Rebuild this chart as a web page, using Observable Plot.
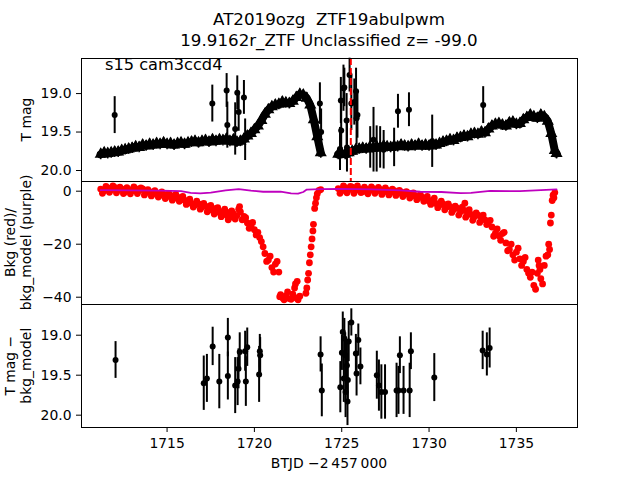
<!DOCTYPE html>
<html><head><meta charset="utf-8">
<script src="https://cdn.jsdelivr.net/npm/d3@7"></script>
<script src="https://cdn.jsdelivr.net/npm/@observablehq/plot@0.6"></script>
<style>
body{margin:0;background:#fff}
#wrap{position:relative;width:640px;height:480px;overflow:hidden;background:#fff;font-family:"DejaVu Sans",sans-serif}
#wrap svg.p{position:absolute;left:0}
#overlay{position:absolute;left:0;top:0;pointer-events:none}
#overlay text{white-space:pre}
</style></head><body>
<div id="wrap"></div>
<script>
// ---------- data ----------
const xTicks = [1715, 1720, 1725, 1730, 1735];
const magTicks = [19.0, 19.5, 20.0];
const bkgTicks = [-40, -20, 0];
const flagDay = [1725.52];
const gapDay = 1724.3; // orbit gap between the two segments

// light curve (top panel dense band)
const lcDays = [1711.2,1711.4,1711.6,1711.8,1712.0,1712.2,1712.4,1712.6,1712.8,1713.0,
1713.2,1713.4,1713.6,1713.8,1714.0,1714.2,1714.4,1714.6,1714.8,1715.0,
1715.2,1715.4,1715.6,1715.8,1716.0,1716.2,1716.4,1716.6,1716.8,1717.0,
1717.2,1717.4,1717.6,1717.8,1718.0,1718.2,1718.4,1718.6,1718.8,1719.0,
1719.2,1719.4,1719.6,1719.8,1720.0,1720.2,1720.4,1720.6,1720.8,1721.0,
1721.2,1721.4,1721.6,1721.8,1722.0,1722.2,1722.4,1722.6,1722.8,1723.0,
1723.2,1723.4,1723.6,1723.8,
1724.8,1725.0,1725.2,1725.4,1725.6,1725.8,1726.0,1726.2,1726.4,1726.6,
1726.8,1727.0,1727.2,1727.4,1727.6,1727.8,1728.0,1728.2,1728.4,1728.6,
1728.8,1729.0,1729.2,1729.4,1729.6,1729.8,1730.0,1730.2,1730.4,1730.6,
1730.8,1731.0,1731.2,1731.4,1731.6,1731.8,1732.0,1732.2,1732.4,1732.6,
1732.8,1733.0,1733.2,1733.4,1733.6,1733.8,1734.0,1734.2,1734.4,1734.6,
1734.8,1735.0,1735.2,1735.4,1735.6,1735.8,1736.0,1736.2,1736.4,1736.6,
1736.8,1737.0,1737.2,1737.3];
const lcMag = [19.79,19.77,19.78,19.77,19.76,19.76,19.74,19.73,19.72,19.71,
19.69,19.70,19.67,19.68,19.66,19.67,19.65,19.66,19.64,19.66,
19.65,19.67,19.65,19.64,19.66,19.64,19.63,19.62,19.64,19.62,
19.61,19.63,19.60,19.62,19.60,19.61,19.59,19.62,19.60,19.63,
19.62,19.59,19.55,19.52,19.47,19.42,19.35,19.27,19.21,19.17,
19.15,19.14,19.11,19.12,19.13,19.10,19.05,19.01,19.02,19.06,
19.15,19.34,19.56,19.77,
19.79,19.78,19.79,19.77,19.75,19.73,19.72,19.71,19.72,19.70,
19.71,19.69,19.70,19.68,19.69,19.70,19.68,19.69,19.67,19.68,
19.69,19.67,19.68,19.66,19.68,19.67,19.68,19.66,19.67,19.65,
19.63,19.62,19.60,19.61,19.58,19.57,19.55,19.56,19.53,19.52,
19.53,19.50,19.51,19.46,19.42,19.40,19.39,19.41,19.42,19.38,
19.37,19.40,19.39,19.34,19.31,19.28,19.30,19.32,19.28,19.30,
19.36,19.52,19.74,19.78];
const lcErr = 0.07;

// top panel points with large error bars
const topOutDays = [1712.0,1717.59,1718.41,1718.45,1718.9,1719.02,1719.1,1719.4,1719.47,1723.75,1723.82,
1724.9,1724.95,1724.97,1725.1,1725.15,1725.28,1725.3,1725.45,1725.55,1725.72,1725.82,1725.85,1725.9,
1726.63,1726.82,1727.0,1727.2,1727.4,1728.0,1728.22,1728.85,1730.18,1733.1];
const topOutMag = [19.28,19.13,18.96,19.41,19.46,18.99,19.24,19.05,19.60,19.13,19.50,
19.72,19.09,19.48,18.93,18.92,19.35,19.70,18.76,19.13,19.11,18.97,19.32,19.28,
19.70,19.60,19.72,19.70,19.73,19.70,19.23,19.21,19.62,19.15];
const topOutErr = [0.24,0.24,0.22,0.30,0.34,0.22,0.25,0.22,0.27,0.27,0.30,
0.28,0.30,0.35,0.30,0.25,0.35,0.32,0.22,0.35,0.30,0.30,0.35,0.30,
0.27,0.42,0.30,0.27,0.25,0.25,0.22,0.22,0.34,0.24];

// background (red)
const bkgDays = [1711.2,1711.4,1711.6,1711.8,1712.0,1712.2,1712.4,1712.6,1712.8,1713.0,
1713.2,1713.4,1713.6,1713.8,1714.0,1714.2,1714.4,1714.6,1714.8,1715.0,
1715.2,1715.4,1715.6,1715.8,1716.0,1716.2,1716.4,1716.6,1716.8,1717.0,
1717.2,1717.4,1717.6,1717.8,1718.0,1718.2,1718.4,1718.6,1718.8,1719.0,
1719.2,1719.4,1719.6,1719.8,1720.0,1720.2,1720.4,1720.6,1720.8,1721.0,
1721.2,1721.4,1721.6,1721.8,1722.0,1722.2,1722.4,1722.6,
1711.3,1711.5,1711.7,1711.9,1712.1,1712.3,1712.5,1712.7,1712.9,1713.1,
1713.3,1713.5,1713.7,1713.9,1714.1,1714.3,1714.5,1714.7,1714.9,1715.1,
1715.3,1715.5,1715.7,1715.9,1716.1,1716.3,1716.5,1716.7,1716.9,1717.1,
1717.3,1717.5,1717.7,1717.9,1718.1,1718.3,1718.5,1718.7,1718.9,1719.1,
1719.3,1719.5,1719.7,1719.9,1720.1,1720.3,1720.5,1720.7,1720.9,1721.1,
1721.3,1721.5,1721.7,1721.9,1722.1,1722.3,1722.5,
1721.45,1722.35,1722.45,1719.15,1718.45,
1722.95,1723.0,1723.05,1723.1,1723.15,1723.2,1723.25,1723.3,1723.35,1723.38,1723.45,1723.5,1723.55,1723.6,1723.7,1723.8,
1724.8,1725.0,1725.2,1725.4,1725.6,1725.8,1726.0,1726.2,1726.4,1726.6,
1726.8,1727.0,1727.2,1727.4,1727.6,1727.8,1728.0,1728.2,1728.4,1728.6,
1728.8,1729.0,1729.2,1729.4,1729.6,1729.8,1730.0,1730.2,1730.4,1730.6,
1730.8,1731.0,1731.2,1731.4,1731.6,1731.8,1732.0,1732.2,1732.4,1732.6,
1732.8,1733.0,1733.2,1733.4,1733.6,1733.8,1734.0,1734.2,1734.4,1734.6,
1734.8,1735.0,1735.2,1735.4,1735.6,1735.8,1736.0,1736.2,1736.4,1736.6,
1736.8,1737.0,
1724.9,1725.1,1725.3,1725.5,1725.7,1725.9,1726.1,1726.3,1726.5,1726.7,
1726.9,1727.1,1727.3,1727.5,1727.7,1727.9,1728.1,1728.3,1728.5,1728.7,
1728.9,1729.1,1729.3,1729.5,1729.7,1729.9,1730.1,1730.3,1730.5,1730.7,
1730.9,1731.1,1731.3,1731.5,1731.7,1731.9,1732.1,1732.3,1732.5,1732.7,
1732.9,1733.1,1733.3,1733.5,1733.7,1733.9,1734.1,1734.3,1734.5,1734.7,
1734.9,1735.1,1735.3,1735.5,1735.7,1735.9,1736.1,1736.3,1736.5,1736.7,
1736.9,
1732.05,1736.25,1736.35,1736.85,1736.95,1737.05,1737.1,1737.15,1737.2];
const bkgVals = [0.8,0.2,1.2,0.6,1.4,0.4,0.9,-0.3,0.7,0.2,
1.0,0.3,0.9,-0.5,-0.2,-1.0,-0.6,-1.5,-1.1,-2.0,
-1.6,-2.6,-2.2,-3.0,-3.4,-4.2,-4.6,-5.2,-4.8,-6.0,
-5.6,-6.8,-7.2,-6.5,-8.0,-7.6,-9.0,-9.8,-8.6,-9.2,
-7.8,-9.5,-12.0,-13.2,-14.5,-15.5,-19.0,-23.5,-26.0,-28.8,
-27.5,-30.5,-40.2,-39.5,-40.5,-38.8,-40.3,-39.6,
-0.8,1.8,-0.4,2.0,-0.6,1.5,-0.9,1.3,-1.0,1.6,
-0.9,1.2,-1.4,0.6,-1.8,0.2,-2.2,-0.3,-2.8,-0.9,
-3.4,-1.2,-3.8,-2.0,-5.0,-3.0,-6.0,-3.8,-6.8,-4.6,
-7.8,-5.4,-8.6,-6.2,-9.6,-6.8,-10.8,-7.4,-10.5,-6.8,
-10.8,-10.0,-14.0,-11.8,-16.5,-17.5,-21.0,-26.5,-24.5,-30.5,
-26.5,-39.0,-41.0,-38.0,-40.8,-36.5,-41.0,
-39.8,-35.0,-34.0,-5.8,-8.0,
-38.5,-36.5,-33.5,-31.0,-27.0,-24.0,-21.0,-18.0,-15.0,-12.5,-6.5,-4.5,-2.5,-1.0,0.3,0.6,
1.0,0.2,1.3,0.5,1.5,0.4,0.9,-0.2,0.8,0.3,
1.0,0.1,0.7,-0.3,0.4,-0.5,0.2,-0.9,-0.3,-1.2,
-0.6,-1.5,-1.8,-2.5,-2.2,-3.2,-3.8,-3.4,-4.6,-5.2,
-4.8,-6.0,-5.8,-7.0,-6.4,-7.8,-7.2,-8.2,-8.8,-9.6,
-9.0,-10.2,-10.8,-11.5,-13.5,-15.8,-16.8,-16.0,-19.5,-22.0,
-24.0,-23.0,-25.5,-26.5,-29.5,-32.5,-35.5,-31.0,-33.0,-28.0,
-24.0,-9.0,
-0.8,2.0,-0.6,1.8,-0.8,2.0,-0.5,1.5,-1.0,1.6,
-0.8,1.4,-1.2,1.2,-1.4,0.8,-1.6,0.3,-2.0,-0.2,
-2.6,-0.6,-3.2,-1.2,-3.8,-2.0,-5.0,-2.6,-6.2,-3.8,
-7.0,-4.8,-8.0,-5.6,-9.0,-6.0,-9.8,-7.0,-11.0,-8.2,
-11.8,-9.0,-12.6,-11.0,-17.0,-14.2,-18.5,-15.5,-22.5,-20.0,
-26.0,-21.5,-28.0,-25.0,-31.0,-30.5,-37.0,-28.0,-35.0,-24.5,
-22.0,
-4.5,-26.0,-29.5,-20.0,-12.0,-3.5,-1.5,-2.5,-0.5];

// background model (purple)
const modelDays = [1711.2,1712.9,1714.6,1715.8,1716.35,1716.9,1717.5,1718.35,1719.1,1719.8,1720.5,1721.5,1722.1,1722.5,1722.8,1723.0,1723.8,1724.9,1726.7,1728.4,1729.5,1730.7,1731.8,1732.4,1733.5,1735.2,1736.4,1737.3];
const modelVals = [0.4,0.3,0.2,0.0,-0.6,-0.8,-0.5,0.3,0.8,0.2,-0.2,-0.2,-0.8,-0.9,-0.3,0.6,0.8,0.9,0.7,0.3,-0.2,-0.3,-0.7,-0.6,0.1,0.0,0.4,0.7];

// bottom panel: T mag - bkg_model
const difDays = [1712.05,1717.10,1717.28,1717.61,1717.99,1718.48,1718.48,1718.90,1719.04,1719.09,
1719.16,1719.47,1719.51,1719.59,1720.27,1720.31,1720.33,1723.79,1723.86,1724.92,
1725.01,1725.06,1725.12,1725.15,1725.20,1725.22,1725.30,1725.33,1725.55,1725.35,
1725.40,1725.81,1725.85,1725.95,1726.07,1727.01,1727.13,1727.27,1727.48,1728.14,
1728.25,1728.33,1728.54,1728.89,1728.96,1730.30,1733.07,1733.31,1733.47];
const difMag = [19.31,19.60,19.54,19.14,19.58,19.03,19.51,19.63,19.58,19.42,
19.21,19.20,19.58,19.15,19.49,19.20,19.25,19.24,19.69,19.65,
19.22,18.96,19.54,19.04,19.25,19.71,19.38,19.83,18.84,19.56,
19.08,19.23,19.48,19.06,19.39,19.50,19.63,19.71,19.71,19.69,
19.69,19.25,19.69,19.69,19.20,19.53,19.19,19.24,19.16];
const difErr = [0.23,0.34,0.30,0.24,0.34,0.24,0.30,0.35,0.30,0.25,
0.24,0.25,0.31,0.24,0.35,0.21,0.22,0.22,0.33,0.32,
0.22,0.25,0.30,0.25,0.28,0.32,0.30,0.30,0.17,0.30,
0.25,0.24,0.28,0.20,0.23,0.30,0.32,0.34,0.34,0.34,
0.30,0.23,0.30,0.34,0.23,0.30,0.24,0.27,0.25];

// ---------- build tables ----------
const lc = lcDays.map((d, i) => ({d, m: lcMag[i], e: lcErr, seg: d < gapDay ? 1 : 2}));
const topOut = topOutDays.map((d, i) => ({d, m: topOutMag[i], e: topOutErr[i]}));
const bkg = bkgDays.map((d, i) => ({d, v: bkgVals[i]}));
const model = modelDays.map((d, i) => ({d, v: modelVals[i]}));
const dif = difDays.map((d, i) => ({d, m: difMag[i], e: difErr[i]}));

const X_DOMAIN = [1710.1, 1738.5];
const FONT = "DejaVu Sans";
const baseStyle = {fontFamily: FONT, fontSize: "13.9px", color: "black", background: "transparent", overflow: "visible"};
const common = {width: 640, marginLeft: 81, marginRight: 63, style: baseStyle};

const wrap = document.getElementById("wrap");

// panel 1
const p1 = Plot.plot({
  ...common, height: 181, marginTop: 58, marginBottom: 0,
  x: {domain: X_DOMAIN, axis: null},
  y: {domain: [20.143, 18.544], ticks: magTicks, tickFormat: ".1f", tickSize: 5, tickPadding: 5, label: null},
  marks: [
    Plot.line(lc, {x: "d", y: "m", z: "seg", stroke: "black", strokeWidth: 8, strokeLinejoin: "round", strokeLinecap: "round"}),
    Plot.ruleX(lc, {x: "d", y1: d => d.m - d.e, y2: d => d.m + d.e, stroke: "black", strokeWidth: 1.5}),
    Plot.dot(lc, {x: "d", y: "m", r: 4.5, symbol: "triangle", fill: "black", stroke: "none"}),
    Plot.ruleX(topOut, {x: "d", y1: d => d.m - d.e, y2: d => d.m + d.e, stroke: "black", strokeWidth: 2}),
    Plot.dot(topOut, {x: "d", y: "m", r: 3, fill: "black", stroke: "none"}),
    Plot.ruleX(flagDay, {stroke: "#ff0000", strokeWidth: 2, strokeDasharray: "7,3"}),
    Plot.frame({stroke: "black", strokeWidth: 1})
  ]
});
p1.classList.add("p"); p1.style.top = "0px";
wrap.appendChild(p1);

// panel 2
const p2 = Plot.plot({
  ...common, height: 123, marginTop: 0, marginBottom: 0,
  x: {domain: X_DOMAIN, axis: null},
  y: {domain: [-42.75, 3.66], ticks: bkgTicks, tickSize: 5, tickPadding: 5, label: null},
  marks: [
    Plot.dot(bkg, {x: "d", y: "v", r: 3.4, fill: "#ff0000", stroke: "none"}),
    Plot.line(model, {x: "d", y: "v", stroke: "#bf00bf", strokeWidth: 1.8}),
    Plot.frame({stroke: "black", strokeWidth: 1})
  ]
});
p2.classList.add("p"); p2.style.top = "181px";
wrap.appendChild(p2);

// panel 3
const p3 = Plot.plot({
  ...common, height: 176, marginTop: 0, marginBottom: 53,
  x: {domain: X_DOMAIN, ticks: xTicks, tickFormat: d => String(d), tickSize: 5, tickPadding: 6, label: null},
  y: {domain: [20.154, 18.616], ticks: magTicks, tickFormat: ".1f", tickSize: 5, tickPadding: 5, label: null},
  marks: [
    Plot.ruleX(dif, {x: "d", y1: d => d.m - d.e, y2: d => d.m + d.e, stroke: "black", strokeWidth: 2}),
    Plot.dot(dif, {x: "d", y: "m", r: 3, fill: "black", stroke: "none"}),
    Plot.frame({stroke: "black", strokeWidth: 1})
  ]
});
p3.classList.add("p"); p3.style.top = "304px";
wrap.appendChild(p3);

// overlay texts
const ns = "http://www.w3.org/2000/svg";
const ov = document.createElementNS(ns, "svg");
ov.setAttribute("id", "overlay");
ov.setAttribute("width", 640); ov.setAttribute("height", 480);
function txt(s, x, y, size, anchor, rot) {
  const t = document.createElementNS(ns, "text");
  t.textContent = s;
  t.setAttribute("x", x); t.setAttribute("y", y);
  t.setAttribute("font-family", FONT);
  t.setAttribute("font-size", size);
  t.setAttribute("text-anchor", anchor);
  t.setAttribute("fill", "black");
  t.setAttributeNS("http://www.w3.org/XML/1998/namespace", "xml:space", "preserve");
  if (rot) t.setAttribute("transform", `rotate(-90 ${x} ${y})`);
  ov.appendChild(t);
}
txt("AT2019ozg  ZTF19abulpwm", 329, 25, 16.7, "middle");
txt("19.9162r_ZTF Unclassified z= -99.0", 329, 46, 16.7, "middle");
txt("s15 cam3ccd4", 105, 70, 16.2, "start");
txt("T mag", 31, 119.5, 13.9, "middle", true);
txt("Bkg (red)/", 15, 242.5, 13.9, "middle", true);
txt("bkg_model (purple)", 31, 242.5, 13.9, "middle", true);
txt("T mag \u2212", 15, 365.7, 13.9, "middle", true);
txt("bkg_model", 31, 365.7, 13.9, "middle", true);
txt("BTJD \u22122\u2009457\u2009000", 329, 468, 13.9, "middle");
wrap.appendChild(ov);
</script></body></html>
